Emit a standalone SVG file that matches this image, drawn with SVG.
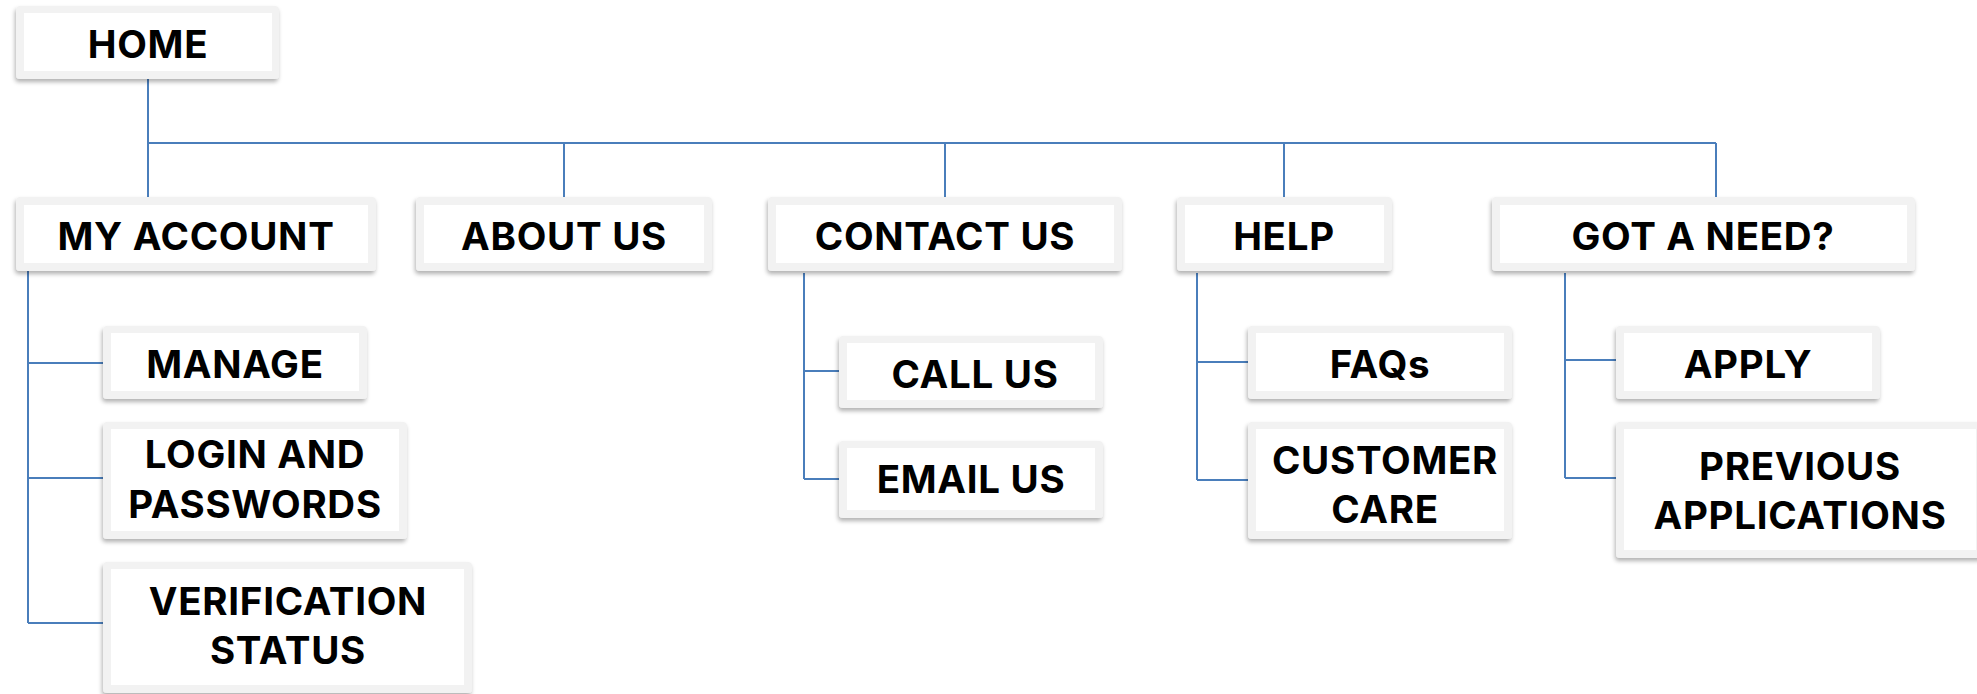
<svg xmlns="http://www.w3.org/2000/svg" width="1977" height="694" viewBox="0 0 1977 694">
<defs>
<filter id="sh" x="-10%" y="-20%" width="120%" height="150%">
<feDropShadow dx="-1" dy="3" stdDeviation="2" flood-color="#000" flood-opacity="0.3"/>
</filter>
<style>
.o{fill:#f2f2f2;filter:url(#sh)}
.i{fill:#ffffff}
.t{font-family:Inter,"Liberation Sans",sans-serif;font-weight:750;font-size:38.5px;letter-spacing:0.7px;fill:#000;text-anchor:middle}
.c{fill:none;stroke:#4a7ebb;stroke-width:2}
</style>
</defs>
<rect width="1977" height="694" fill="#fff"/>
<g id="connectors" class="c">
<path d="M148 79V197M148 143H1716M564 143V197M945 143V197M1284 143V197M1716 143V197"/>
<path d="M28 271V623M28 363H103M28 478H103M28 623H103"/>
<path d="M804 273V479M804 371H839M804 479H839"/>
<path d="M1197 273V480M1197 362H1248M1197 480H1248"/>
<path d="M1565 273V478M1565 360H1616M1565 478H1616"/>
</g>
<g id="home"><rect class="o" x="16" y="6" width="263" height="73" rx="4"/><rect class="i" x="24" y="13" width="248" height="58"/><text class="t" x="148" y="58">HOME</text></g>
<g id="my-account"><rect class="o" x="16" y="197" width="360" height="74" rx="4"/><rect class="i" x="24" y="205" width="344" height="58"/><text class="t" x="196" y="250">MY ACCOUNT</text></g>
<g id="about-us"><rect class="o" x="416" y="197" width="296" height="74" rx="4"/><rect class="i" x="424" y="205" width="280" height="58"/><text class="t" x="564" y="250">ABOUT US</text></g>
<g id="contact-us"><rect class="o" x="768" y="197" width="354" height="74" rx="4"/><rect class="i" x="776" y="205" width="338" height="58"/><text class="t" x="945" y="250">CONTACT US</text></g>
<g id="help"><rect class="o" x="1177" y="197" width="215" height="74" rx="4"/><rect class="i" x="1185" y="205" width="199" height="58"/><text class="t" x="1284" y="250">HELP</text></g>
<g id="got-a-need"><rect class="o" x="1492" y="197" width="423" height="74" rx="4"/><rect class="i" x="1500" y="205" width="407" height="58"/><text class="t" x="1703" y="250">GOT A NEED?</text></g>
<g id="manage"><rect class="o" x="103" y="326" width="264" height="73" rx="4"/><rect class="i" x="111" y="333" width="248" height="58"/><text class="t" x="235" y="378">MANAGE</text></g>
<g id="login"><rect class="o" x="103" y="422" width="304" height="117" rx="4"/><rect class="i" x="111" y="429" width="288" height="102"/><text class="t" x="255" y="468">LOGIN AND</text><text class="t" x="255" y="518">PASSWORDS</text></g>
<g id="verification"><rect class="o" x="103" y="562" width="369" height="131" rx="4"/><rect class="i" x="111" y="569" width="353" height="116"/><text class="t" x="288" y="615">VERIFICATION</text><text class="t" x="288" y="664">STATUS</text></g>
<g id="call-us"><rect class="o" x="839" y="336" width="264" height="72" rx="4"/><rect class="i" x="847" y="343" width="248" height="57"/><text class="t" x="975" y="388">CALL US</text></g>
<g id="email-us"><rect class="o" x="839" y="441" width="264" height="77" rx="4"/><rect class="i" x="847" y="448" width="248" height="62"/><text class="t" x="971" y="493">EMAIL US</text></g>
<g id="faqs"><rect class="o" x="1248" y="326" width="264" height="73" rx="4"/><rect class="i" x="1256" y="333" width="248" height="58"/><text class="t" x="1380" y="378">FAQs</text></g>
<g id="customer-care"><rect class="o" x="1248" y="422" width="264" height="117" rx="4"/><rect class="i" x="1256" y="429" width="248" height="102"/><text class="t" x="1385" y="474">CUSTOMER</text><text class="t" x="1385" y="523">CARE</text></g>
<g id="apply"><rect class="o" x="1616" y="326" width="264" height="73" rx="4"/><rect class="i" x="1624" y="333" width="248" height="58"/><text class="t" x="1748" y="378">APPLY</text></g>
<g id="previous-applications"><rect class="o" x="1616" y="422" width="368" height="136" rx="4"/><rect class="i" x="1624" y="429" width="352" height="121"/><text class="t" x="1800" y="480">PREVIOUS</text><text class="t" x="1800" y="529">APPLICATIONS</text></g>
</svg>
